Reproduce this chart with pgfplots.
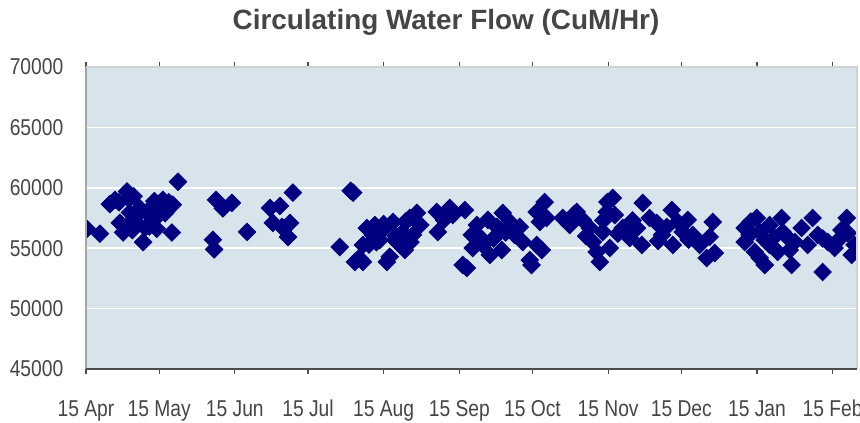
\documentclass[border=0pt]{standalone}
\usepackage{fontspec}
\setmainfont{Liberation Sans}
\usepackage{pgfplots}
\pgfplotsset{compat=1.18}
\definecolor{plotbg}{HTML}{D7E4EC}
\definecolor{navyc}{HTML}{000080}
\definecolor{txt}{HTML}{454545}
\begin{document}
\begin{tikzpicture}
\begin{axis}[
 scale only axis, width=385.5bp, height=151bp,
 xmin=0, xmax=316, ymin=45000, ymax=70000,
 scaled y ticks=false,
 axis background/.style={fill=plotbg},
 axis line style={draw=none},
 clip mode=individual,
 clip marker paths=true,
 xtick={0,30,61,91,122,153,183,214,244,275,306},
 xticklabels={15 Apr,15 May,15 Jun,15 Jul,15 Aug,15 Sep,15 Oct,15 Nov,15 Dec,15 Jan,15 Feb},
 ytick={45000,50000,55000,60000,65000,70000},
 yticklabels={45000,50000,55000,60000,65000,70000},
 ymajorgrids, grid style={white, line width=0.8bp},
 major tick length=2.5bp,
 tick align=outside,
 xtick style={draw=black!70, line width=0.6bp},
 ytick style={draw=none},
 tick label style={font=\fontsize{11.5}{13}\selectfont, text=txt, xscale=0.84},
 xticklabel style={yshift=-9bp, text height=8.5bp, text depth=2.5bp},
 yticklabel style={xshift=-7bp},
]
\addplot[only marks, mark=square*, mark size=3.1bp, mark options={rotate=45, fill=navyc, draw=navyc}] table {
x y
0.4 56600
5.7 56200
9.8 58650
11.9 59000
13.5 58800
16.8 59700
17.5 59100
19.5 59300
13.9 57100
15.2 56300
18 57950
20 57500
22.1 58300
24.2 56700
23.4 55500
27 58400
29.1 57600
31.5 59000
32.4 57900
35.6 58600
35.2 56300
37.7 60500
26 56800
30 58700
21 57000
28 58900
34 58800
25 58000
16.5 56800
19 56500
33 58100
29 56600
52 55700
52.5 54900
53.3 59000
56.1 58300
59.8 58750
66 56350
75.4 58330
79.5 58500
84.8 59600
76.6 57100
80.3 56760
83.6 57090
82.8 55930
104 55100
108.5 59750
109.5 59600
110.2 53860
113.5 53860
112 54200
115.1 56670
113.5 55270
117.6 56100
121.7 56510
123.3 53860
124.5 54300
125.8 57170
128.6 55270
129.9 56340
132.7 57500
134 56100
135.6 57920
137 56920
130.7 54850
126.6 55680
120.4 55680
118.4 56920
122 57000
127 56000
131 57200
133 55500
119 55500
116 55300
143.8 58000
144.2 56340
149.1 58330
150.3 57750
155.3 58160
146.7 57340
154.4 53610
156.1 53360
158.1 56100
158.5 55020
160.2 56920
162.6 55270
165.5 54440
164.7 57340
168.4 56760
170.8 57920
170.4 54850
173.7 57170
175.7 56100
177.8 56760
179 55510
181.9 54020
182.6 53610
184.7 55270
186.8 54850
184.7 58000
188 58820
188.8 57500
186 57170
167 55800
172 56300
161 56000
195.4 57500
198.3 56920
201.1 58000
203.6 57340
206.5 56670
207.7 55510
209.3 54690
210.6 53860
211.8 56340
213.7 58820
213.4 58000
215.9 59160
214.7 55020
216.7 57750
220 56670
222.9 55840
225.8 56670
227.8 55270
228.2 58740
231 57500
233.9 57090
236.1 56100
238 56760
240.1 58160
240.5 55270
242.5 57170
244.6 56340
246.6 57340
248.7 56100
251.5 55270
254.4 54190
256.9 57170
257.7 54600
255.6 55930
218 56200
224 57300
234.5 55600
247 55700
200 57800
205 56000
212 57300
270 56670
270 55510
272 56100
274.9 57500
276.1 56340
274.1 54690
278.2 53610
280.2 55270
276.1 54190
285.1 57500
285.5 56340
283.5 54690
289.2 53610
290.5 55510
293.3 56670
297.8 57500
299.9 56100
301.9 53030
304 55510
306.8 55020
311.8 57500
312.2 56260
313.8 54440
315 55270
280.2 56920
288.4 54850
295.8 55270
309.6 56510
278.2 55680
272.5 57200
282 55900
287 56000
302 55800
308 55600
};
\draw[gray!70, line width=0.6bp] (rel axis cs:0,0) -- (rel axis cs:0,1);
\draw[gray!35, line width=0.6bp] (rel axis cs:0,1) -- (rel axis cs:1,1) -- (rel axis cs:1,0);
\draw[black!70, line width=0.9bp] (rel axis cs:0,0) -- (rel axis cs:1,0);
\end{axis}
\node[font=\bfseries\fontsize{14}{16}\selectfont, text=txt] at (180bp,173.5bp) {Circulating Water Flow (CuM/Hr)};
\pgfresetboundingbox
\path (-43bp,-27bp) rectangle (387bp,184.5bp);
\end{tikzpicture}
\end{document}
